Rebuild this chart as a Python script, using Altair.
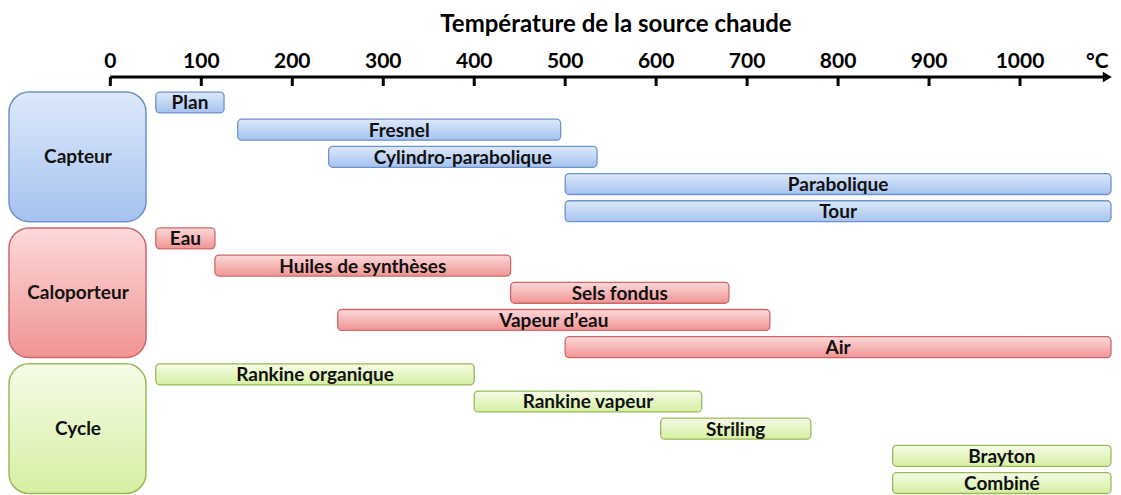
import altair as alt
import pandas as pd

# ---------------- data ----------------
groups = ["Capteur", "Caloporteur", "Cycle"]
labels = ["Plan", "Fresnel", "Cylindro-parabolique", "Parabolique", "Tour",
          "Eau", "Huiles de synthèses", "Sels fondus", "Vapeur d’eau", "Air",
          "Rankine organique", "Rankine vapeur", "Striling", "Brayton", "Combiné"]
bar_group = ["Capteur"] * 5 + ["Caloporteur"] * 5 + ["Cycle"] * 5
t_min = [50, 140, 240, 500, 500, 50, 115, 440, 250, 500, 50, 400, 605, 860, 860]
t_max = [125, 495, 535, 1100, 1100, 115, 440, 680, 725, 1100, 400, 650, 770, 1100, 1100]
tick_values = [0, 100, 200, 300, 400, 500, 600, 700, 800, 900, 1000]
unit_label = "°C"
unit_label_pos = 1085
axis_end = 1096
axis_title = "Température de la source chaude"

# ---------------- tables ----------------
HALF = 0.385
bars = pd.DataFrame({"label": labels, "group": bar_group, "t_min": t_min, "t_max": t_max})
bars["row"] = range(len(bars))
bars["y0"] = bars["row"] - HALF
bars["y1"] = bars["row"] + HALF
bars["mid"] = (bars["t_min"] + bars["t_max"]) / 2

boxes = pd.DataFrame({
    "group": groups,
    "y0": [bars.loc[bars.group == g, "row"].min() - HALF for g in groups],
    "y1": [bars.loc[bars.group == g, "row"].max() + HALF for g in groups],
})
boxes["yc"] = (boxes["y0"] + boxes["y1"]) / 2

ticks = pd.DataFrame({"t": tick_values})
tick_labels = pd.DataFrame({
    "t": tick_values + [unit_label_pos],
    "txt": [str(v) for v in tick_values] + [unit_label],
})
axis_line = pd.DataFrame({"a": [0], "b": [axis_end], "title": [axis_title]})

FONT = "Lato"
xs = alt.Scale(domain=[-112.5, 1102.2], nice=False, zero=False)
ys = alt.Scale(domain=[-0.938, 14.44], nice=False, zero=False, reverse=True)

palette = {
    "Capteur": ("#dde9fb", "#a5c2ef", "#6f93c9"),
    "Caloporteur": ("#fdd9d9", "#f09494", "#c96a68"),
    "Cycle": ("#f6fce8", "#d5efa2", "#9aba5a"),
}


def grad(top, bottom):
    return alt.Gradient(
        gradient="linear",
        stops=[alt.GradientStop(color=top, offset=0), alt.GradientStop(color=bottom, offset=1)],
        x1=0, x2=0, y1=0, y2=1,
    )


# axis: line with arrow, downward ticks, labels and title
line_layer = alt.Chart(axis_line).mark_rule(color="#000", strokeWidth=3).encode(
    x=alt.X("a:Q", scale=xs, axis=None), x2="b:Q", y=alt.value(0),
)
arrow_layer = alt.Chart(axis_line).mark_point(
    shape="triangle-right", filled=True, color="#000", size=110, opacity=1
).encode(x=alt.X("b:Q", scale=xs, axis=None), y=alt.value(0))
tick_layer = alt.Chart(ticks).mark_rule(color="#000", strokeWidth=3).encode(
    x=alt.X("t:Q", scale=xs, axis=None),
    y=alt.value(0), y2=alt.value(9),
)
tick_text = alt.Chart(tick_labels).mark_text(
    font=FONT, fontSize=21, fontWeight="bold", color="#000", baseline="alphabetic"
).encode(x=alt.X("t:Q", scale=xs, axis=None), y=alt.value(-9), text="txt:N")
title_text = alt.Chart(axis_line).mark_text(
    font=FONT, fontSize=24, fontWeight="bold", color="#000", baseline="alphabetic"
).encode(x=alt.value(608), y=alt.value(-45), text="title:N")

layers = [line_layer, arrow_layer, tick_layer, tick_text, title_text]

# category boxes
layers.append(
    alt.Chart(boxes).mark_bar(
        color="#000", opacity=0.15, cornerRadius=20, xOffset=1.5, yOffset=2.5
    ).encode(
        x=alt.value(1), x2=alt.value(138),
        y=alt.Y("y0:Q", scale=ys, axis=None), y2="y1:Q",
    )
)
for g in groups:
    top, bottom, edge = palette[g]
    layers.append(
        alt.Chart(boxes).transform_filter(alt.datum.group == g).mark_bar(
            fill=grad(top, bottom), stroke=edge, strokeWidth=1.5, cornerRadius=20
        ).encode(
            x=alt.value(1), x2=alt.value(138),
            y=alt.Y("y0:Q", scale=ys, axis=None), y2="y1:Q",
        )
    )
layers.append(
    alt.Chart(boxes).mark_text(
        font=FONT, fontSize=19, fontWeight="bold", color="#111", baseline="middle"
    ).encode(x=alt.value(70), y=alt.Y("yc:Q", scale=ys, axis=None), text="group:N")
)

# range bars
layers.append(
    alt.Chart(bars).mark_bar(
        color="#000", opacity=0.15, cornerRadius=4, xOffset=1.5, yOffset=2
    ).encode(
        x=alt.X("t_min:Q", scale=xs, axis=None), x2="t_max:Q",
        y=alt.Y("y0:Q", scale=ys, axis=None), y2="y1:Q",
    )
)
for g in groups:
    top, bottom, edge = palette[g]
    layers.append(
        alt.Chart(bars).transform_filter(alt.datum.group == g).mark_bar(
            fill=grad(top, bottom), stroke=edge, strokeWidth=1.3, cornerRadius=4
        ).encode(
            x=alt.X("t_min:Q", scale=xs, axis=None), x2="t_max:Q",
            y=alt.Y("y0:Q", scale=ys, axis=None), y2="y1:Q",
        )
    )
layers.append(
    alt.Chart(bars).mark_text(
        font=FONT, fontSize=19, fontWeight="bold", color="#111", baseline="middle", dy=1
    ).encode(
        x=alt.X("mid:Q", scale=xs, axis=None),
        y=alt.Y("row:Q", scale=ys, axis=None),
        text="label:N",
    )
)

chart = alt.layer(*layers).properties(
    width=1105, height=418,
    padding={"left": 0, "top": 69, "right": 0, "bottom": 0},
    autosize=alt.AutoSizeParams(type="none"),
).configure(background="white").configure_view(stroke=None)

chart.save("out.html", embed_options={"renderer": "svg", "actions": False})
